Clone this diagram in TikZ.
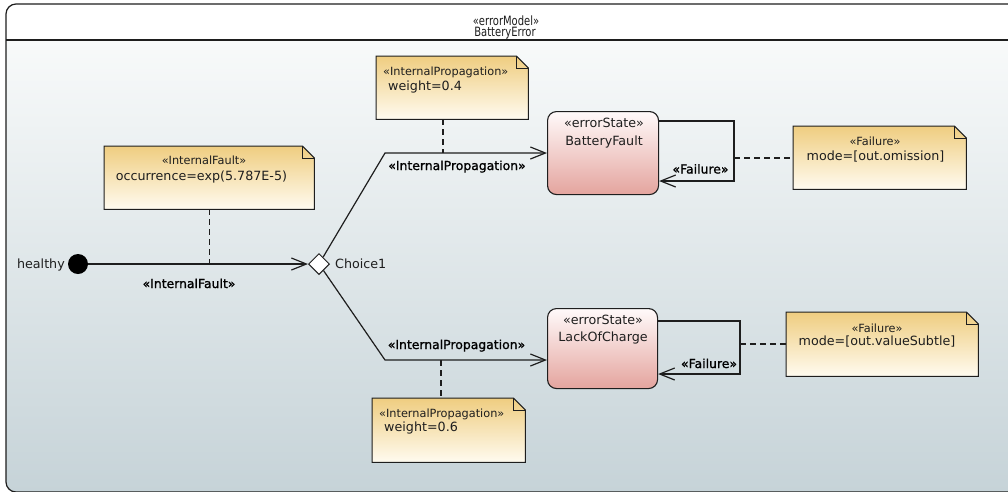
\documentclass[tikz,border=0pt]{standalone}
\usepackage{fontspec}
\setmainfont{DejaVu Sans}
\newfontfamily\hdrfont[FakeStretch=0.78]{DejaVu Sans}
\newfontfamily\lblfont[FakeBold=1.2]{DejaVu Sans}
\usetikzlibrary{arrows.meta,shapes.geometric,calc}
\pgfdeclarelayer{back}
\pgfdeclarelayer{paper}
\pgfsetlayers{back,paper,main}

\definecolor{ink}{HTML}{1E1E1E}
\definecolor{notetop}{RGB}{239,205,128}
\definecolor{notebot}{RGB}{255,251,240}
\definecolor{statetop}{RGB}{255,250,250}
\definecolor{statebot}{RGB}{228,164,158}
\definecolor{bgtop}{RGB}{248,250,250}
\definecolor{bgbot}{RGB}{198,211,216}

\tikzset{
  txt/.style={inner sep=0pt, text=ink, font=\fontsize{12.7}{14}\selectfont},
  stereo/.style={inner sep=0pt, text=ink, font=\fontsize{11.3}{13}\selectfont},
  edgelbl/.style={inner sep=0pt, text=black, font=\lblfont\fontsize{12.4}{14}\selectfont},
  hdr/.style={inner sep=0pt, text=ink, font=\hdrfont\fontsize{12.8}{14}\selectfont},
  notearea/.style={inner sep=0pt, anchor=north west},
  errstate/.style={draw=ink, line width=1.1pt, rounded corners=9pt,
    top color=statetop, bottom color=statebot, inner sep=0pt, anchor=north west},
  flow/.style={draw=ink, line width=1.2pt,
    -{Straight Barb[length=15pt,width=12pt,line width=1.2pt]}},
  link/.style={draw=ink, line width=1.3pt, dash pattern=on 6pt off 4pt},
}

% note body with a folded top-right corner, drawn under the node's text
\newcommand\notepaper[1]{%
  \begin{pgfonlayer}{paper}
    \path[top color=notetop, bottom color=notebot, draw=ink, line width=1pt]
      (#1.north west) -- ([xshift=-12pt]#1.north east)
      -- ([yshift=-12pt]#1.north east) -- (#1.south east)
      -- (#1.south west) -- cycle;
    \draw[ink, line width=1pt]
      ([xshift=-12pt]#1.north east) |- ([yshift=-12pt]#1.north east);
  \end{pgfonlayer}}

\begin{document}
\begin{tikzpicture}[x=1pt, y=-1pt]
\useasboundingbox (0,0) rectangle (1008,491);

% frame of the error model
\begin{pgfonlayer}{back}
  \fill[white] (0,0) rectangle (1008,491);
  \begin{scope}
    \clip[rounded corners=10pt] (6,4) rectangle (1020,492);
    \fill[white] (6,4) rectangle (1020,40);
    \shade[top color=bgtop, bottom color=bgbot] (6,40) rectangle (1020,492);
  \end{scope}
  \draw[ink, line width=1.2pt, rounded corners=10pt] (6,4) rectangle (1020,492);
  \draw[ink, line width=1.2pt] (6,40) -- (1020,40);
\end{pgfonlayer}
\node[hdr, anchor=base] (hst) at (506,25) {«errorModel»};
\node[hdr, anchor=base] (hname) at (505,36.5) {BatteryError};

% initial state and choice
\node[circle, fill=black, minimum size=20pt, inner sep=0pt] (init) at (78,264) {};
\node[txt, anchor=base east] (initlbl) at (65,268.5) {healthy};
\node[diamond, draw=ink, fill=white, line width=1pt, minimum size=21pt,
      inner sep=0pt] (ch) at (319,264) {};
\node[txt, anchor=base west] (chlbl) at (335,268.5) {Choice1};

% error states
\node[errstate, minimum width=111pt, minimum height=83pt] (bf) at (547,111) {};
\node[txt, anchor=base] (bfst) at (604,127) {«errorState»};
\node[txt, anchor=base] (bfname) at (604,145) {BatteryFault};
\node[errstate, minimum width=110pt, minimum height=80pt] (lc) at (547,308) {};
\node[txt, anchor=base] (lcst) at (603,324) {«errorState»};
\node[txt, anchor=base] (lcname) at (603,341) {LackOfCharge};

% notes
\node[notearea, minimum width=210pt, minimum height=63pt] (ifn) at (104,146) {};
\notepaper{ifn}
\node[stereo, anchor=base] (ifns) at (204,164) {«InternalFault»};
\node[txt, anchor=base] (ifnb) at (201.5,180) {occurrence=exp(5.787E-5)};

\node[notearea, minimum width=152pt, minimum height=63pt] (ipn1) at (376,56) {};
\notepaper{ipn1}
\node[stereo, anchor=base west] (ipn1s) at (383,75) {«InternalPropagation»};
\node[txt, anchor=base west] (ipn1b) at (388,90) {weight=0.4};

\node[notearea, minimum width=153pt, minimum height=64pt] (ipn2) at (372,398) {};
\notepaper{ipn2}
\node[stereo, anchor=base west] (ipn2s) at (379,417) {«InternalPropagation»};
\node[txt, anchor=base west] (ipn2b) at (384,431) {weight=0.6};

\node[notearea, minimum width=173pt, minimum height=63pt] (fn1) at (793,126) {};
\notepaper{fn1}
\node[stereo, anchor=base] (fn1s) at (875,145) {«Failure»};
\node[txt, anchor=base] (fn1b) at (875.5,160) {mode=[out.omission]};

\node[notearea, minimum width=192pt, minimum height=64pt] (fn2) at (786,312) {};
\notepaper{fn2}
\node[stereo, anchor=base] (fn2s) at (877,332) {«Failure»};
\node[txt, anchor=base] (fn2b) at (877,345) {mode=[out.valueSubtle]};

% transitions
\coordinate (k1) at (385,153);
\coordinate (k2) at (385,360);
\draw[flow] (init) -- (ch);
\draw[flow] (ch) -- (k1) -- (k1 -| bf.west);
\draw[flow] (ch) -- (k2) -- (k2 -| lc.west);

\coordinate (r1t) at (734,121);
\coordinate (r1b) at (734,181);
\draw[flow] (bf.east |- r1t) -- (r1t) -- (r1b) -- (bf.east |- r1b);
\coordinate (r2t) at (740,321);
\coordinate (r2b) at (740,374);
\draw[flow] (lc.east |- r2t) -- (r2t) -- (r2b) -- (lc.east |- r2b);

\node[edgelbl, anchor=base] (l0) at (189,288) {«InternalFault»};
\node[edgelbl, anchor=base] (l1) at (457,170) {«InternalPropagation»};
\node[edgelbl, anchor=base] (l2) at (456.5,349) {«InternalPropagation»};
\node[edgelbl, anchor=base] (l3) at (700.5,173.5) {«Failure»};
\node[edgelbl, anchor=base] (l4) at (709,368) {«Failure»};

% note attachments
\draw[link] (ifn.south) -- (ifn.south |- init);
\coordinate (d1) at (443,153);
\draw[link] (d1 |- ipn1.south) -- (d1);
\coordinate (d2) at (441,360);
\draw[link] (d2) -- (d2 |- ipn2.north);
\coordinate (r1m) at (734,158);
\draw[link] (r1m) -- (r1m -| fn1.west);
\coordinate (r2m) at (740,344);
\draw[link] (r2m) -- (r2m -| fn2.west);
\end{tikzpicture}
\end{document}
